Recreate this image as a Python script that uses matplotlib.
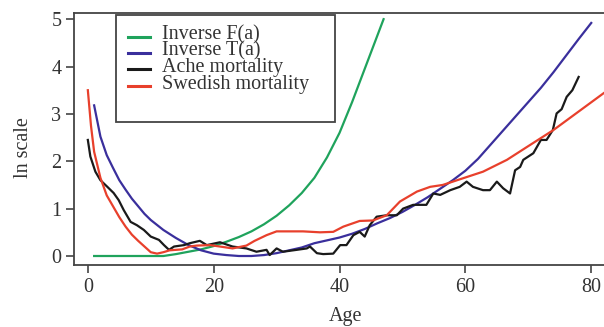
import matplotlib
matplotlib.use("Agg")
import matplotlib.pyplot as plt
from matplotlib.patches import Rectangle
from matplotlib.lines import Line2D

# ---- data ----
f_age = [1, 4, 8, 12, 14, 16, 18, 20, 22, 24, 26, 28, 30, 32, 34, 36, 38, 40, 42, 44, 46, 47]
f_val = [0, 0, 0, 0.0, 0.04, 0.09, 0.14, 0.21, 0.3, 0.4, 0.52, 0.67, 0.85, 1.07, 1.33, 1.65,
         2.08, 2.6, 3.25, 3.95, 4.65, 5.0]

t_age = [1, 2, 3, 4, 5, 6, 7, 8, 9, 10, 12, 14, 16, 18, 20, 22, 24, 26, 28, 30, 32, 34, 36, 38,
         40, 42, 44, 46, 48, 50, 52, 54, 56, 58, 60, 62, 64, 66, 68, 70, 72, 74, 76, 78, 80]
t_val = [3.18, 2.52, 2.13, 1.86, 1.6, 1.4, 1.21, 1.05, 0.89, 0.76, 0.55, 0.38, 0.23, 0.12, 0.05,
         0.02, 0.0, 0.0, 0.02, 0.06, 0.12, 0.18, 0.27, 0.33, 0.39, 0.47, 0.57, 0.69, 0.8, 0.93,
         1.08, 1.24, 1.42, 1.6, 1.8, 2.05, 2.35, 2.65, 2.95, 3.25, 3.55, 3.88, 4.23, 4.58, 4.92]

ache_age = [0, 0.4, 1.2, 2, 3.1, 4.1, 4.9, 5.7, 6.8, 7.8, 8.9, 10, 11.3, 12.1, 12.9, 13.7, 15.3,
            16.2, 17.8, 18.9, 21, 23, 25.2, 26.8, 28.4, 28.9, 30, 31, 33.2, 34.8, 35.3, 36.4,
            37.4, 39, 40.1, 41.1, 42.2, 43.2, 44, 44.8, 45.9, 47.5, 49.1, 50.1, 51.7, 53.8,
            54.9, 56, 57.6, 59.1, 60.2, 61.2, 62.8, 63.9, 65, 66, 67.1, 67.9, 68.7, 69.2, 70.8,
            72, 72.9, 73.9, 74.5, 75.3, 76.1, 77, 78]
ache_val = [2.45, 2.1, 1.78, 1.6, 1.46, 1.33, 1.18, 0.97, 0.72, 0.65, 0.55, 0.41, 0.34, 0.23,
            0.13, 0.2, 0.23, 0.27, 0.32, 0.23, 0.29, 0.2, 0.16, 0.09, 0.13, 0.02, 0.16, 0.09,
            0.13, 0.16, 0.2, 0.06, 0.04, 0.05, 0.23, 0.23, 0.44, 0.51, 0.41, 0.65, 0.83, 0.86,
            0.86, 1.0, 1.08, 1.08, 1.32, 1.29, 1.39, 1.46, 1.57, 1.46, 1.39, 1.39, 1.57, 1.43,
            1.32, 1.81, 1.88, 2.03, 2.17, 2.45, 2.45, 2.66, 3.01, 3.1, 3.36, 3.5, 3.78]

swe_age = [0, 0.5, 1, 2, 3, 4, 5, 6, 7, 8, 9, 10, 11, 12, 13, 15, 16.2, 17.3, 19.4, 21, 23, 25.2,
           26.5, 28.4, 30, 32, 34.2, 36.9, 39, 40.6, 43.2, 45.3, 47.5, 49.6, 52.3, 54.4, 56.4,
           59.6, 62.8, 66.6, 70, 74, 78, 82, 84]
swe_val = [3.5, 2.75, 2.2, 1.65, 1.28, 1.05, 0.82, 0.62, 0.45, 0.32, 0.2, 0.08, 0.05, 0.08,
           0.12, 0.14, 0.2, 0.22, 0.23, 0.2, 0.16, 0.22, 0.32, 0.44, 0.52, 0.52, 0.52, 0.5, 0.51,
           0.62, 0.74, 0.75, 0.86, 1.15, 1.36, 1.46, 1.5, 1.64, 1.78, 2.03, 2.32, 2.66, 3.05,
           3.44, 3.62]

labels = ["Inverse F(a)", "Inverse T(a)", "Ache mortality", "Swedish mortality"]
colors = ["#1fa35c", "#3a2f9c", "#1a1a1a", "#e8402c"]
x_ticks = [0, 20, 40, 60, 80]
y_ticks = [0, 1, 2, 3, 4, 5]

# ---- figure ----
W, H = 604, 327
plt.rcParams["font.family"] = ["Liberation Serif", "DejaVu Serif"]
fig = plt.figure(figsize=(W / 100, H / 100), dpi=100)
ax = fig.add_axes([74 / W, 62 / H, (616.4 - 74) / W, (265 - 13) / H])
ax.set_xlim(-2.2, 84)
ax.set_ylim(-0.19, 5.13)

series = [(f_age, f_val), (t_age, t_val), (ache_age, ache_val), (swe_age, swe_val)]
for (xa, ya), c in zip(series, colors):
    ax.plot(xa, ya, color=c, lw=1.6, solid_joinstyle="round")

for s in ["left", "bottom", "top"]:
    ax.spines[s].set_color("#444444")
    ax.spines[s].set_linewidth(1.3)
ax.spines["right"].set_visible(False)

ax.set_xticks(x_ticks)
ax.set_yticks(y_ticks)
ax.tick_params(axis="both", direction="out", length=6, width=1.2, color="#444444",
               labelsize=14.5, labelcolor="#333333", pad=3)

fig.text(346 / W, 1 - 316 / H, "Age", ha="center", va="center", fontsize=14.5, color="#333333")
fig.text(24 / W, 1 - 148 / H, "ln scale", ha="center", va="center", rotation=90,
         fontsize=14.5, color="#333333")

# legend box (pixel coordinates of the figure)
def fx(px):
    return px / W

def fy(py):
    return 1 - py / H

fig.patches.append(Rectangle((fx(116), fy(122)), fx(335) - fx(116), fy(15) - fy(122),
                             transform=fig.transFigure, fill=True, facecolor="white",
                             edgecolor="#444444", lw=1.3, zorder=5))
ys = [36.5, 52.8, 69.2, 85.6]
for yy, lab, c in zip(ys, labels, colors):
    fig.lines.append(Line2D([fx(128), fx(150)], [fy(yy), fy(yy)], transform=fig.transFigure,
                            color=c, lw=2.2, zorder=6))
    fig.text(fx(162), fy(yy - 1.5), lab, ha="left", va="center", fontsize=14.5,
             color="#333333", zorder=6)

fig.savefig("out.png", dpi=100)
